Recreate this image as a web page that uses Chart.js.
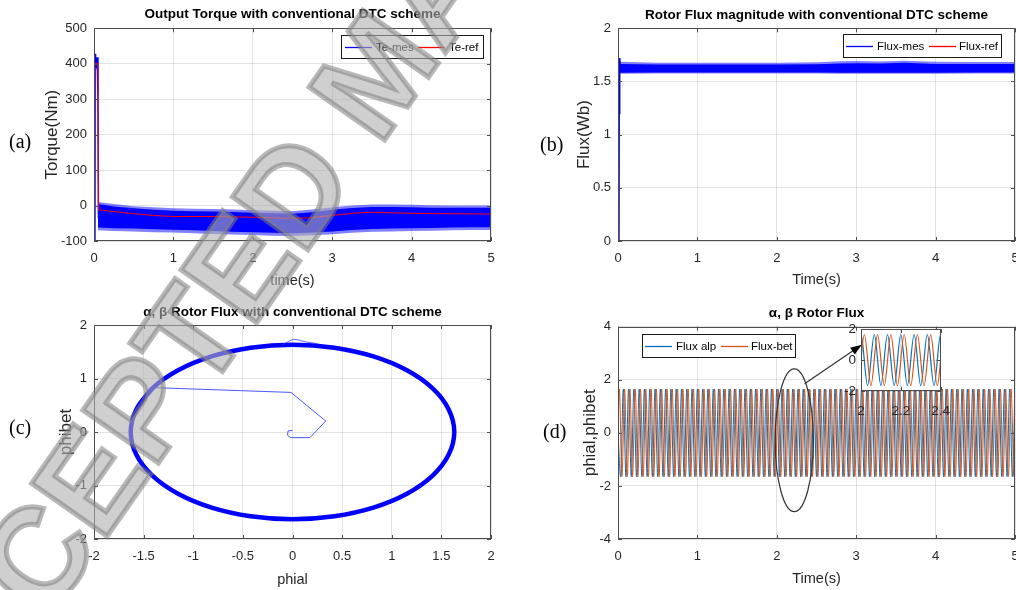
<!DOCTYPE html>
<html>
<head>
<meta charset="utf-8">
<script src="https://cdn.jsdelivr.net/npm/chart.js@4.4.1/dist/chart.umd.min.js"></script>
<style>
  html, body { margin: 0; padding: 0; background: #fff; }
  body { width: 1016px; height: 590px; position: relative; overflow: hidden; }
  canvas { position: absolute; }
  .tag { position: absolute; font-family: 'Liberation Serif', 'Times New Roman', serif; font-size: 20px; line-height: 20px; color: #000; }
  .wm {
    position: absolute; left: 376px; top: 72px;
    transform: translate(-50%, -50%) rotate(-55deg);
    font: bold 134px 'Liberation Sans', Arial, sans-serif; line-height: 1;
    white-space: nowrap; pointer-events: none; z-index: 10;
    color: rgba(175, 175, 175, 0.6);
    -webkit-text-stroke: 5px rgba(125, 125, 125, 0.55);
  }
</style>
</head>
<body>
<canvas id="torque-chart" width="585" height="295" style="left:0;top:0"></canvas>
<canvas id="flux-chart" width="585" height="295" style="left:524px;top:0"></canvas>
<canvas id="locus-chart" width="585" height="295" style="left:0;top:295px"></canvas>
<canvas id="ab-chart" width="585" height="295" style="left:524px;top:295px"></canvas>
<canvas id="zoom-chart" width="136" height="105" style="left:826px;top:316px"></canvas>
<div class="tag" style="left:9px;top:131px">(a)</div>
<div class="tag" style="left:540px;top:134px">(b)</div>
<div class="tag" style="left:9px;top:417px">(c)</div>
<div class="tag" style="left:543px;top:421px">(d)</div>
<div class="wm">ACCEPTED MANUSCRIPT</div>
<script>
// --- (a) couple ---
const teMesT = [0.012, 0.014, 0.02, 0.028, 0.04, 0.05, 0.056];
const teMesV = [-100, 428, 405, 396, 418, 300, -35];
const teBandT = [0.05, 0.25, 0.5, 0.75, 1, 1.25, 1.5, 1.75, 2, 2.25, 2.5, 2.75, 3, 3.25, 3.5, 3.75, 4, 4.25, 4.5, 4.75, 5];
const teSpikeHigh = [10, 4, -2, -5, -8, -9, -10, -11, -13, -15, -16, -11, -5, 0, 3, 3, 2, 1, 0, 0, 0];
const teBandHigh = [4, -3, -8, -12, -15, -16, -17, -18, -20, -22, -23, -19, -12, -7, -4, -4, -5, -6, -6, -6, -6];
const teBandLow = [-62, -64, -65, -67, -68, -70, -72, -74, -75, -77, -78, -76, -73, -69, -66, -65, -64, -63, -62, -61, -61];
const teSpikeLow = [-70, -72, -73, -75, -76, -78, -80, -82, -83, -85, -86, -84, -81, -77, -74, -73, -72, -71, -70, -69, -69];
const teRefT = [0, 0.008, 0.05, 0.056, 0.25, 0.5, 0.75, 1, 1.5, 2, 2.4, 2.7, 3, 3.3, 3.5, 4, 4.5, 5];
const teRefV = [0, 400, 400, -12, -17, -23, -28, -31, -31, -33, -36, -35, -28, -21, -19, -22, -23, -24];

// --- (b) module du flux ---
const fluxMesT = [0.012, 0.015, 0.019, 0.024, 0.032];
const fluxMesV = [0, 1.2, 1.6, 1.72, 1.62];
const fluxBandT = [0.025, 0.5, 1, 1.5, 2, 2.5, 2.8, 3, 3.3, 3.6, 4, 4.5, 5];
const fluxSpikeHigh = [1.685, 1.675, 1.675, 1.675, 1.675, 1.68, 1.69, 1.692, 1.688, 1.695, 1.685, 1.682, 1.682];
const fluxBandHigh = [1.665, 1.66, 1.66, 1.66, 1.66, 1.662, 1.67, 1.672, 1.668, 1.675, 1.665, 1.664, 1.664];
const fluxBandLow = [1.582, 1.584, 1.584, 1.584, 1.584, 1.584, 1.582, 1.581, 1.582, 1.581, 1.582, 1.584, 1.584];
const fluxSpikeLow = [1.572, 1.575, 1.575, 1.575, 1.575, 1.575, 1.573, 1.572, 1.573, 1.572, 1.573, 1.575, 1.575];
const fluxRefT = [0, 5];
const fluxRefV = [1.6, 1.6];

// --- (c) lieu alpha/beta ---
const locusStartX = [0, -0.045, -0.05, -0.02, 0.175, 0.335, -0.015, -1.41];
const locusStartY = [0.03, 0.02, -0.06, -0.105, -0.105, 0.205, 0.74, 0.83];
const locusRingX = [-1.412, -1.574, -1.63, -1.574, -1.412, -1.153, -0.815, -0.422, 0, 0.422, 0.815, 1.153, 1.412, 1.574, 1.63, 1.574, 1.412, 1.153, 0.815, 0.422, 0, -0.422, -0.815, -1.153, -1.412, -1.574];
const locusRingY = [0.815, 0.422, 0, -0.422, -0.815, -1.153, -1.412, -1.574, -1.63, -1.574, -1.412, -1.153, -0.815, -0.422, 0, 0.422, 0.815, 1.153, 1.412, 1.574, 1.63, 1.574, 1.412, 1.153, 0.815, 0.422];
const locusBumpX = [-0.1, -0.03, 0.02, 0.12, 0.25];
const locusBumpY = [1.63, 1.7, 1.73, 1.69, 1.65];

// --- (d) composantes alpha/beta : instants des extrema ---
const fluxPeak = 1.65;
const fluxTrough = -1.65;
const alpMaxT = [0.067, 0.133, 0.2, 0.267, 0.333, 0.4, 0.467, 0.533, 0.6, 0.667, 0.733, 0.8, 0.867, 0.933, 1.0, 1.067, 1.133, 1.2, 1.267, 1.333, 1.4, 1.467, 1.533, 1.6, 1.667, 1.733, 1.8, 1.867, 1.933, 2.0, 2.067, 2.133, 2.2, 2.267, 2.333, 2.4, 2.467, 2.533, 2.6, 2.667, 2.733, 2.8, 2.867, 2.933, 3.0, 3.067, 3.133, 3.2, 3.267, 3.333, 3.4, 3.467, 3.533, 3.6, 3.667, 3.733, 3.8, 3.867, 3.933, 4.0, 4.067, 4.133, 4.2, 4.267, 4.333, 4.4, 4.467, 4.533, 4.6, 4.667, 4.733, 4.8, 4.867, 4.933, 5.0];
const alpMinT = [0.033, 0.1, 0.167, 0.233, 0.3, 0.367, 0.433, 0.5, 0.567, 0.633, 0.7, 0.767, 0.833, 0.9, 0.967, 1.033, 1.1, 1.167, 1.233, 1.3, 1.367, 1.433, 1.5, 1.567, 1.633, 1.7, 1.767, 1.833, 1.9, 1.967, 2.033, 2.1, 2.167, 2.233, 2.3, 2.367, 2.433, 2.5, 2.567, 2.633, 2.7, 2.767, 2.833, 2.9, 2.967, 3.033, 3.1, 3.167, 3.233, 3.3, 3.367, 3.433, 3.5, 3.567, 3.633, 3.7, 3.767, 3.833, 3.9, 3.967, 4.033, 4.1, 4.167, 4.233, 4.3, 4.367, 4.433, 4.5, 4.567, 4.633, 4.7, 4.767, 4.833, 4.9, 4.967];
const betMaxT = [0.017, 0.083, 0.15, 0.217, 0.283, 0.35, 0.417, 0.483, 0.55, 0.617, 0.683, 0.75, 0.817, 0.883, 0.95, 1.017, 1.083, 1.15, 1.217, 1.283, 1.35, 1.417, 1.483, 1.55, 1.617, 1.683, 1.75, 1.817, 1.883, 1.95, 2.017, 2.083, 2.15, 2.217, 2.283, 2.35, 2.417, 2.483, 2.55, 2.617, 2.683, 2.75, 2.817, 2.883, 2.95, 3.017, 3.083, 3.15, 3.217, 3.283, 3.35, 3.417, 3.483, 3.55, 3.617, 3.683, 3.75, 3.817, 3.883, 3.95, 4.017, 4.083, 4.15, 4.217, 4.283, 4.35, 4.417, 4.483, 4.55, 4.617, 4.683, 4.75, 4.817, 4.883, 4.95];
const betMinT = [0.05, 0.117, 0.183, 0.25, 0.317, 0.383, 0.45, 0.517, 0.583, 0.65, 0.717, 0.783, 0.85, 0.917, 0.983, 1.05, 1.117, 1.183, 1.25, 1.317, 1.383, 1.45, 1.517, 1.583, 1.65, 1.717, 1.783, 1.85, 1.917, 1.983, 2.05, 2.117, 2.183, 2.25, 2.317, 2.383, 2.45, 2.517, 2.583, 2.65, 2.717, 2.783, 2.85, 2.917, 2.983, 3.05, 3.117, 3.183, 3.25, 3.317, 3.383, 3.45, 3.517, 3.583, 3.65, 3.717, 3.783, 3.85, 3.917, 3.983, 4.05, 4.117, 4.183, 4.25, 4.317, 4.383, 4.45, 4.517, 4.583, 4.65, 4.717, 4.783, 4.85, 4.917, 4.983];

const SANS = "'Liberation Sans', Arial, sans-serif";
const GRID = 'rgba(0, 0, 0, 0.11)';
const BLUE = '#0000ff', RED = '#ff0000', M_BLUE = '#0072bd', M_ORANGE = '#d95319';
const FRINGE = 'rgba(0, 0, 255, 0.5)';

Chart.defaults.font.family = SANS;
Chart.defaults.color = '#262626';

function xy(xs, ys) { return xs.map((x, i) => ({ x: x, y: ys[i] })); }

function wave(maxT, minT) {
    const pts = [{ x: 0, y: 0 }];
    maxT.forEach(t => pts.push({ x: t, y: fluxPeak }));
    minT.forEach(t => pts.push({ x: t, y: fluxTrough }));
    return pts.sort((a, b) => a.x - b.x);
}

// format MATLAB : pas de zéros inutiles (2 au lieu de 2.0)
const tickText = v => String(Math.round(v * 1000) / 1000);

// cadre MATLAB + petites graduations internes, titre centré sur les axes
const axesBox = {
    id: 'axesBox',
    afterLayout(chart) {
        const t = chart.titleBlock;
        if (t) {
            t.left = chart.chartArea.left;
            t.right = chart.chartArea.right;
            t.width = t.right - t.left;
        }
    },
    beforeDraw(chart, args, o) {
        if (!o.white) return;
        const a = chart.chartArea;
        chart.ctx.save();
        chart.ctx.fillStyle = '#fff';
        chart.ctx.fillRect(a.left, a.top, a.right - a.left, a.bottom - a.top);
        chart.ctx.restore();
    },
    afterDatasetsDraw(chart) {
        const { ctx, chartArea: a, scales } = chart;
        ctx.save();
        ctx.strokeStyle = '#4d4d4d';
        ctx.lineWidth = 1;
        ctx.strokeRect(Math.round(a.left) + 0.5, Math.round(a.top) + 0.5, Math.round(a.right - a.left) - 1, Math.round(a.bottom - a.top) - 1);
        ctx.beginPath();
        scales.x.ticks.forEach(t => {
            const p = Math.round(scales.x.getPixelForValue(t.value)) + 0.5;
            ctx.moveTo(p, a.bottom); ctx.lineTo(p, a.bottom - 4);
            ctx.moveTo(p, a.top); ctx.lineTo(p, a.top + 4);
        });
        scales.y.ticks.forEach(t => {
            const p = Math.round(scales.y.getPixelForValue(t.value)) + 0.5;
            ctx.moveTo(a.left, p); ctx.lineTo(a.left + 4, p);
            ctx.moveTo(a.right, p); ctx.lineTo(a.right - 4, p);
        });
        ctx.stroke();
        ctx.restore();
    }
};

// légende encadrée à l'intérieur des axes
const boxLegend = {
    id: 'boxLegend',
    afterDraw(chart, args, o) {
        if (!o.items) return;
        const { ctx, chartArea: a } = chart;
        const x = Math.round(a.left + o.x), y = Math.round(a.top + o.y);
        const cy = y + Math.round(o.h / 2) + 0.5;
        ctx.save();
        ctx.fillStyle = '#fff';
        ctx.fillRect(x, y, o.w, o.h);
        ctx.strokeStyle = '#1a1a1a';
        ctx.lineWidth = 1;
        ctx.strokeRect(x + 0.5, y + 0.5, o.w, o.h);
        ctx.font = '11.5px ' + SANS;
        ctx.textBaseline = 'middle';
        o.items.forEach(it => {
            const ds = chart.data.datasets[it.ds];
            ctx.strokeStyle = ds.borderColor;
            ctx.lineWidth = 1.3;
            ctx.beginPath();
            ctx.moveTo(x + it.lx, cy); ctx.lineTo(x + it.lx + 27, cy);
            ctx.stroke();
            ctx.fillStyle = '#000';
            ctx.fillText(ds.label, x + it.tx, cy);
        });
        ctx.restore();
    }
};

// ellipse + flèche vers l'encart
const zoomMark = {
    id: 'zoomMark',
    afterDatasetsDraw(chart, args, o) {
        if (!o.ellipse) return;
        const { ctx, scales: { x, y } } = chart;
        const e = o.ellipse;
        const cx = x.getPixelForValue(e.x), cy = y.getPixelForValue(e.y);
        const rx = x.getPixelForValue(e.x + e.rx) - cx, ry = cy - y.getPixelForValue(e.y + e.ry);
        ctx.save();
        ctx.strokeStyle = '#333';
        ctx.lineWidth = 1.2;
        ctx.beginPath();
        ctx.ellipse(cx, cy, rx, ry, 0, 0, Math.PI * 2);
        ctx.stroke();
        const x0 = x.getPixelForValue(o.arrow[0]), y0 = y.getPixelForValue(o.arrow[1]);
        const x1 = x.getPixelForValue(o.arrow[2]), y1 = y.getPixelForValue(o.arrow[3]);
        const ang = Math.atan2(y1 - y0, x1 - x0);
        ctx.beginPath();
        ctx.moveTo(x0, y0); ctx.lineTo(x1 - 8 * Math.cos(ang), y1 - 8 * Math.sin(ang));
        ctx.stroke();
        ctx.fillStyle = '#000';
        ctx.beginPath();
        ctx.moveTo(x1, y1);
        ctx.lineTo(x1 - 12 * Math.cos(ang - 0.35), y1 - 12 * Math.sin(ang - 0.35));
        ctx.lineTo(x1 - 12 * Math.cos(ang + 0.35), y1 - 12 * Math.sin(ang + 0.35));
        ctx.closePath();
        ctx.fill();
        ctx.restore();
    }
};

function makeOptions(o) {
    return {
        responsive: false,
        animation: false,
        devicePixelRatio: 1,
        layout: { padding: { left: o.padL, right: o.padR, top: o.padT || 0, bottom: 0 } },
        elements: { point: { radius: 0 }, line: { borderWidth: 1, tension: 0 } },
        plugins: {
            legend: { display: false },
            tooltip: { enabled: false },
            title: o.title ? {
                display: true, text: o.title, color: '#000',
                font: { size: 13.5, weight: 'bold' }, padding: o.titlePad
            } : { display: false },
            axesBox: { white: !!o.white },
            boxLegend: o.legend || {},
            zoomMark: o.mark || {}
        },
        scales: {
            x: {
                type: 'linear', min: o.x[0], max: o.x[1],
                ticks: { stepSize: o.x[2], padding: o.xTickPad || 10, font: { size: o.tickSize || 13 }, maxRotation: 0, autoSkip: false, callback: tickText },
                grid: { color: GRID, drawTicks: false },
                border: { display: false },
                title: o.xTitle ? {
                    display: true, text: o.xTitle, color: '#262626',
                    font: { size: 14.5 }, padding: { top: 0, bottom: o.xTitlePad }
                } : { display: false },
                afterFit: s => { s.height = o.xH; }
            },
            y: {
                type: 'linear', min: o.y[0], max: o.y[1],
                ticks: { stepSize: o.y[2], padding: o.yTickPad || 7, font: { size: o.tickSize || 13 }, autoSkip: false, callback: tickText },
                grid: { color: GRID, drawTicks: false },
                border: { display: false },
                title: o.yTitle ? {
                    display: true, text: o.yTitle, color: '#262626',
                    font: { size: 17 }, padding: { top: o.yTitlePad, bottom: 0 }
                } : { display: false },
                afterFit: s => { s.width = o.yW; }
            }
        }
    };
}

const plugins = [axesBox, boxLegend, zoomMark];

// (a)
new Chart(document.getElementById('torque-chart'), {
    type: 'line',
    data: {
        datasets: [
            { label: 'Te-ref', data: xy(teRefT, teRefV), borderColor: RED },
            { label: 'Te-mes', data: xy(teMesT, teMesV), borderColor: BLUE, borderWidth: 1.5 },
            { label: 'core-high', data: xy(teBandT, teBandHigh), borderColor: BLUE, backgroundColor: BLUE, borderWidth: 0 },
            { label: 'core-low', data: xy(teBandT, teBandLow), borderColor: BLUE, backgroundColor: BLUE, borderWidth: 0, fill: '-1' },
            { label: 'spike-high', data: xy(teBandT, teSpikeHigh), borderColor: FRINGE, backgroundColor: FRINGE, borderWidth: 0 },
            { label: 'spike-low', data: xy(teBandT, teSpikeLow), borderColor: FRINGE, backgroundColor: FRINGE, borderWidth: 0, fill: '-1' }
        ]
    },
    options: makeOptions({
        padL: 36, padR: 94, yW: 58, xH: 54,
        title: 'Output Torque with conventional DTC scheme', titlePad: { top: 6, bottom: 6 },
        x: [0, 5, 1], y: [-100, 500, 100],
        xTitle: 'time(s)', xTitlePad: 5, yTitle: 'Torque(Nm)', yTitlePad: 6,
        legend: { x: 247, y: 7, w: 142, h: 23, items: [{ ds: 1, lx: 4, tx: 35 }, { ds: 0, lx: 77, tx: 108 }] }
    }),
    plugins: plugins
});

// (b)
new Chart(document.getElementById('flux-chart'), {
    type: 'line',
    data: {
        datasets: [
            { label: 'Flux-mes', data: xy(fluxMesT, fluxMesV), borderColor: BLUE, borderWidth: 1.5 },
            { label: 'core-high', data: xy(fluxBandT, fluxBandHigh), borderColor: BLUE, backgroundColor: BLUE, borderWidth: 0 },
            { label: 'core-low', data: xy(fluxBandT, fluxBandLow), borderColor: BLUE, backgroundColor: BLUE, borderWidth: 0, fill: '-1' },
            { label: 'spike-high', data: xy(fluxBandT, fluxSpikeHigh), borderColor: FRINGE, backgroundColor: FRINGE, borderWidth: 0 },
            { label: 'spike-low', data: xy(fluxBandT, fluxSpikeLow), borderColor: FRINGE, backgroundColor: FRINGE, borderWidth: 0, fill: '-1' },
            { label: 'Flux-ref', data: xy(fluxRefT, fluxRefV), borderColor: RED }
        ]
    },
    options: makeOptions({
        padL: 36, padR: 94, yW: 58, xH: 54,
        title: 'Rotor Flux magnitude with conventional DTC scheme', titlePad: { top: 7.5, bottom: 4.6 },
        x: [0, 5, 1], y: [0, 2, 0.5],
        xTitle: 'Time(s)', xTitlePad: 6, yTitle: 'Flux(Wb)', yTitlePad: 14.5,
        legend: { x: 225, y: 6, w: 158, h: 23, items: [{ ds: 0, lx: 3, tx: 34 }, { ds: 5, lx: 86, tx: 116 }] }
    }),
    plugins: plugins
});

// (c)
new Chart(document.getElementById('locus-chart'), {
    type: 'line',
    data: {
        datasets: [
            { label: 'start', data: xy(locusStartX, locusStartY), borderColor: 'rgba(40, 60, 255, 0.85)', borderWidth: 1 },
            { label: 'bump', data: xy(locusBumpX, locusBumpY), borderColor: 'rgba(40, 60, 255, 0.8)', borderWidth: 1, tension: 0.4 },
            { label: 'ring', data: xy(locusRingX, locusRingY), borderColor: BLUE, borderWidth: 4.5, tension: 0.4 }
        ]
    },
    options: makeOptions({
        padL: 36, padR: 94, yW: 58, xH: 51,
        title: 'α, β Rotor Flux with conventional DTC scheme', titlePad: { top: 9.2, bottom: 4.6 },
        x: [-2, 2, 0.5], y: [-2, 2, 1],
        xTitle: 'phial', xTitlePad: 1.6, yTitle: 'phibet', yTitlePad: 20.5
    }),
    plugins: plugins
});

const alpPts = wave(alpMaxT, alpMinT);
const betPts = wave(betMaxT, betMinT);

// (d)
new Chart(document.getElementById('ab-chart'), {
    type: 'line',
    data: {
        datasets: [
            { label: 'Flux-bet', data: betPts, borderColor: M_ORANGE, cubicInterpolationMode: 'monotone' },
            { label: 'Flux alp', data: alpPts, borderColor: M_BLUE, cubicInterpolationMode: 'monotone' }
        ]
    },
    options: makeOptions({
        padL: 36, padR: 94, yW: 58, xH: 51,
        title: 'α, β Rotor Flux', titlePad: { top: 10.2, bottom: 5.3 },
        x: [0, 5, 1], y: [-4, 4, 2],
        xTitle: 'Time(s)', xTitlePad: 2.6, yTitle: 'phial,phibet', yTitlePad: 20.5,
        legend: { x: 24, y: 7, w: 153, h: 23, items: [{ ds: 1, lx: 3, tx: 34 }, { ds: 0, lx: 79, tx: 109 }] },
        mark: { ellipse: { x: 2.22, y: -0.28, rx: 0.24, ry: 2.69 }, arrow: [2.35, 1.85, 3.07, 3.32] }
    }),
    plugins: plugins
});

// encart 2 s - 2.4 s
new Chart(document.getElementById('zoom-chart'), {
    type: 'line',
    data: {
        datasets: [
            { label: 'Flux-bet', data: betPts, borderColor: M_ORANGE, borderWidth: 1.2, cubicInterpolationMode: 'monotone' },
            { label: 'Flux alp', data: alpPts, borderColor: M_BLUE, borderWidth: 1.2, cubicInterpolationMode: 'monotone' }
        ]
    },
    options: makeOptions({
        padL: 0, padR: 20, padT: 10, yW: 35, xH: 30, white: true,
        x: [2, 2.4, 0.2], y: [-2, 2, 2], tickSize: 13.5, xTickPad: 12, yTickPad: 5
    }),
    plugins: plugins
});
</script>
</body>
</html>
